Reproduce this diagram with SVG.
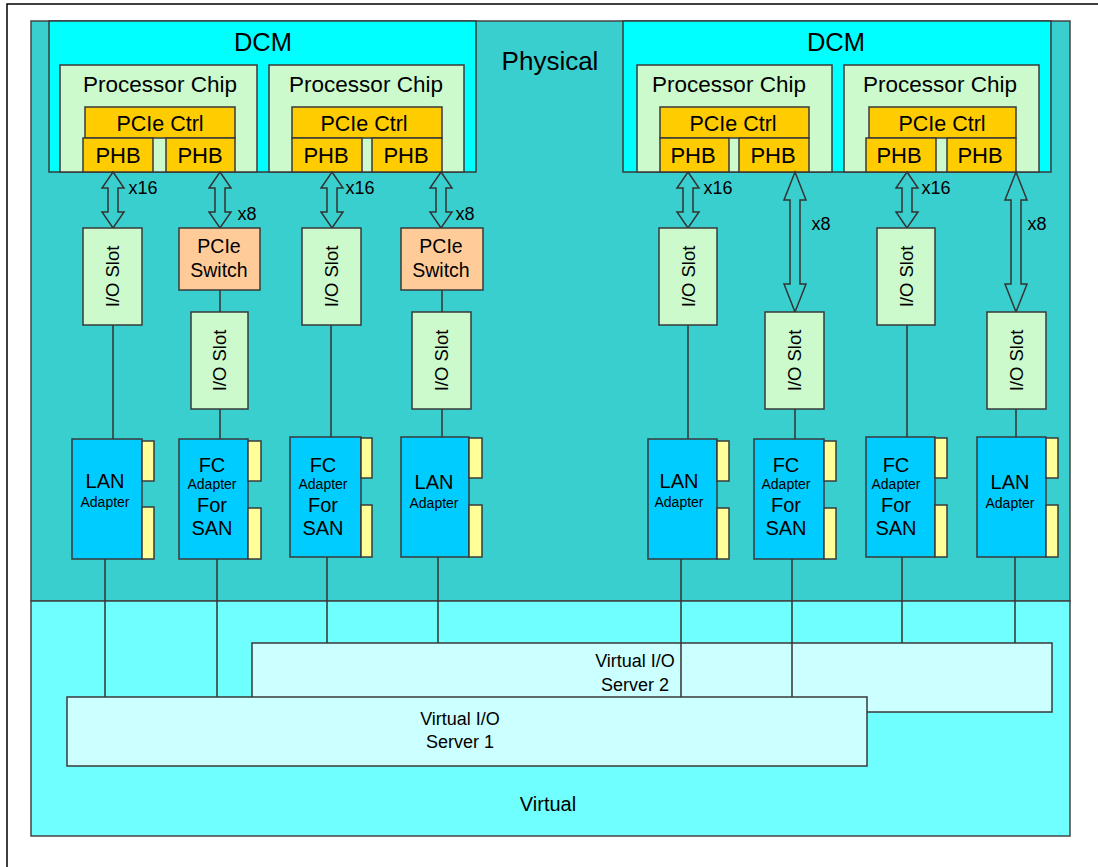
<svg xmlns="http://www.w3.org/2000/svg" width="1098" height="867" viewBox="0 0 1098 867">
<style>
text{font-family:"Liberation Sans",Arial,sans-serif;fill:#000;text-anchor:middle}
.bx{stroke:#3a3a3a;stroke-width:1.5}
.dcm{fill:#00FFFF}
.chip{fill:#CCFACC}
.ctrl{fill:#FFCC00}
.slot{fill:#CCFACC}
.sw{fill:#FFCC99}
.ad{fill:#00CCFF}
.tab{fill:#FFFF99}
.vios{fill:#CCFFFF}
.ln{stroke:#333;stroke-width:1.5;fill:none}
.arr{fill:#3ACFCF;stroke:#333;stroke-width:1.5;stroke-linejoin:miter}
.big{font-size:25.5px}
.chipT{font-size:22.5px}
.t21{font-size:21.5px}
.t22{font-size:22px}
.t20{font-size:20px}
.t18{font-size:18px}
.slT{font-size:18.5px}
.swT{font-size:19.5px}
.t14{font-size:14px}
</style>
<rect width="1098" height="867" fill="#fff"/>
<path d="M7,867 V4 H1098" fill="none" stroke="#000" stroke-width="1.5"/>
<g id="physical">
<rect x="31" y="21" width="1039" height="580" fill="#3ACFCF" stroke="#444" stroke-width="1.5"/>
<text x="550" y="70" style="font-size:26px">Physical</text>
</g>
<g id="virtual">
<rect x="31" y="601" width="1039" height="235" fill="#6FFFFF" stroke="#444" stroke-width="1.5"/>
<text x="548" y="811" style="font-size:20px">Virtual</text>
</g>
<g id="dcm1">
<rect class="bx dcm" x="49" y="21" width="427" height="151"/>
<text class="big" x="263" y="51">DCM</text>
</g>
<g id="dcm2">
<rect class="bx dcm" x="623" y="21" width="428" height="151"/>
<text class="big" x="836" y="51">DCM</text>
</g>
<g id="chip1">
<rect class="bx chip" x="60" y="65" width="197" height="107"/>
<text class="chipT" x="160" y="92">Processor Chip</text>
<rect class="bx ctrl" x="85" y="107" width="150" height="31"/>
<text class="t21" x="160" y="131">PCIe Ctrl</text>
<rect class="bx ctrl" x="83" y="138" width="70" height="34"/>
<text class="t22" x="118" y="163">PHB</text>
<rect class="bx ctrl" x="166" y="138" width="69" height="34"/>
<text class="t22" x="200" y="163">PHB</text>
</g>
<g id="chip2">
<rect class="bx chip" x="269" y="65" width="195" height="107"/>
<text class="chipT" x="366" y="92">Processor Chip</text>
<rect class="bx ctrl" x="292" y="107" width="150" height="31"/>
<text class="t21" x="364" y="131">PCIe Ctrl</text>
<rect class="bx ctrl" x="292" y="138" width="70" height="34"/>
<text class="t22" x="326" y="163">PHB</text>
<rect class="bx ctrl" x="372" y="138" width="70" height="34"/>
<text class="t22" x="406" y="163">PHB</text>
</g>
<g id="chip3">
<rect class="bx chip" x="637" y="65" width="195" height="107"/>
<text class="chipT" x="729" y="92">Processor Chip</text>
<rect class="bx ctrl" x="660" y="107" width="149" height="31"/>
<text class="t21" x="733" y="131">PCIe Ctrl</text>
<rect class="bx ctrl" x="660" y="138" width="69" height="34"/>
<text class="t22" x="693" y="163">PHB</text>
<rect class="bx ctrl" x="739" y="138" width="70" height="34"/>
<text class="t22" x="773" y="163">PHB</text>
</g>
<g id="chip4">
<rect class="bx chip" x="844" y="65" width="195" height="107"/>
<text class="chipT" x="940" y="92">Processor Chip</text>
<rect class="bx ctrl" x="869" y="107" width="147" height="31"/>
<text class="t21" x="942" y="131">PCIe Ctrl</text>
<rect class="bx ctrl" x="866" y="138" width="70" height="34"/>
<text class="t22" x="899" y="163">PHB</text>
<rect class="bx ctrl" x="947" y="138" width="69" height="34"/>
<text class="t22" x="980" y="163">PHB</text>
</g>
<g id="connectors">
<path class="arr" d="M113,172 L124,188 L118,188 L118,212 L124,212 L113,228 L102,212 L108,212 L108,188 L102,188 Z"/>
<path class="arr" d="M220,172 L231,188 L225,188 L225,212 L231,212 L220,228 L209,212 L215,212 L215,188 L209,188 Z"/>
<path class="arr" d="M332,172 L343,188 L337,188 L337,212 L343,212 L332,228 L321,212 L327,212 L327,188 L321,188 Z"/>
<path class="arr" d="M441,172 L452,188 L446,188 L446,212 L452,212 L441,228 L430,212 L436,212 L436,188 L430,188 Z"/>
<path class="arr" d="M688,172 L699,188 L693,188 L693,212 L699,212 L688,228 L677,212 L683,212 L683,188 L677,188 Z"/>
<path class="arr" d="M795,172 L806,200 L800,200 L800,284 L806,284 L795,312 L784,284 L790,284 L790,200 L784,200 Z"/>
<path class="arr" d="M907,172 L918,188 L912,188 L912,212 L918,212 L907,228 L896,212 L902,212 L902,188 L896,188 Z"/>
<path class="arr" d="M1016,172 L1027,200 L1021,200 L1021,284 L1027,284 L1016,312 L1005,284 L1011,284 L1011,200 L1005,200 Z"/>
<path class="ln" d="M113,325 V439 M220,290 V312 M220,409 V439 M331,325 V437 M442,290 V312 M442,409 V437 M688,325 V439 M795,409 V439 M907,325 V437 M1016,409 V437"/>
<path class="ln" d="M105,559 V697 M217,559 V697 M327,557 V643 M438,557 V643 M902,557 V643 M1015,557 V643"/>
</g>
<g id="labels">
<text class="t18" x="143" y="194">x16</text>
<text class="t18" x="247" y="220">x8</text>
<text class="t18" x="360" y="194">x16</text>
<text class="t18" x="465" y="220">x8</text>
<text class="t18" x="718" y="194">x16</text>
<text class="t18" x="821" y="230">x8</text>
<text class="t18" x="936" y="194">x16</text>
<text class="t18" x="1037" y="230">x8</text>
</g>
<g id="slot1"><rect class="bx slot" x="83" y="228" width="59" height="97"/><text class="slT" transform="translate(118.5,276.5) rotate(-90)">I/O Slot</text></g>
<g id="switch1"><rect class="bx sw" x="179" y="228" width="81" height="62"/><text class="swT" x="219" y="253">PCIe</text><text class="swT" x="219" y="277">Switch</text></g>
<g id="slot2"><rect class="bx slot" x="191" y="312" width="57" height="97"/><text class="slT" transform="translate(226,360.5) rotate(-90)">I/O Slot</text></g>
<g id="slot3"><rect class="bx slot" x="302" y="228" width="59" height="97"/><text class="slT" transform="translate(338,276.5) rotate(-90)">I/O Slot</text></g>
<g id="switch2"><rect class="bx sw" x="401" y="228" width="82" height="62"/><text class="swT" x="441" y="253">PCIe</text><text class="swT" x="441" y="277">Switch</text></g>
<g id="slot4"><rect class="bx slot" x="412" y="312" width="59" height="97"/><text class="slT" transform="translate(448,360.5) rotate(-90)">I/O Slot</text></g>
<g id="slot5"><rect class="bx slot" x="659" y="228" width="58" height="97"/><text class="slT" transform="translate(694.5,276.5) rotate(-90)">I/O Slot</text></g>
<g id="slot6"><rect class="bx slot" x="765" y="312" width="59" height="97"/><text class="slT" transform="translate(801,360.5) rotate(-90)">I/O Slot</text></g>
<g id="slot7"><rect class="bx slot" x="877" y="228" width="58" height="97"/><text class="slT" transform="translate(912.5,276.5) rotate(-90)">I/O Slot</text></g>
<g id="slot8"><rect class="bx slot" x="987" y="312" width="59" height="97"/><text class="slT" transform="translate(1023,360.5) rotate(-90)">I/O Slot</text></g>
<g id="lan1"><rect class="bx ad" x="72" y="439" width="70" height="120"/><rect class="bx tab" x="142" y="441" width="12" height="40"/><rect class="bx tab" x="142" y="507" width="12" height="52"/><text class="t20" x="105" y="488">LAN</text><text class="t14" x="105" y="507">Adapter</text></g>
<g id="fc1"><rect class="bx ad" x="179" y="439" width="69" height="120"/><rect class="bx tab" x="248" y="441" width="13" height="40"/><rect class="bx tab" x="248" y="508" width="13" height="51"/><text class="t20" x="212" y="472">FC</text><text class="t14" x="212" y="489">Adapter</text><text class="t20" x="212" y="512">For</text><text class="t20" x="212" y="535">SAN</text></g>
<g id="fc2"><rect class="bx ad" x="290" y="437" width="71" height="120"/><rect class="bx tab" x="361" y="438" width="11" height="40"/><rect class="bx tab" x="361" y="505" width="11" height="52"/><text class="t20" x="323" y="472">FC</text><text class="t14" x="323" y="489">Adapter</text><text class="t20" x="323" y="512">For</text><text class="t20" x="323" y="535">SAN</text></g>
<g id="lan2"><rect class="bx ad" x="401" y="437" width="68" height="120"/><rect class="bx tab" x="469" y="438" width="13" height="40"/><rect class="bx tab" x="469" y="505" width="13" height="52"/><text class="t20" x="434" y="489">LAN</text><text class="t14" x="434" y="508">Adapter</text></g>
<g id="lan3"><rect class="bx ad" x="648" y="439" width="69" height="120"/><rect class="bx tab" x="717" y="441" width="12" height="40"/><rect class="bx tab" x="717" y="508" width="12" height="51"/><text class="t20" x="679" y="488">LAN</text><text class="t14" x="679" y="507">Adapter</text></g>
<g id="fc3"><rect class="bx ad" x="754" y="439" width="70" height="120"/><rect class="bx tab" x="824" y="441" width="12" height="40"/><rect class="bx tab" x="824" y="508" width="12" height="51"/><text class="t20" x="786" y="472">FC</text><text class="t14" x="786" y="489">Adapter</text><text class="t20" x="786" y="512">For</text><text class="t20" x="786" y="535">SAN</text></g>
<g id="fc4"><rect class="bx ad" x="866" y="437" width="69" height="120"/><rect class="bx tab" x="935" y="438" width="12" height="40"/><rect class="bx tab" x="935" y="505" width="12" height="52"/><text class="t20" x="896" y="472">FC</text><text class="t14" x="896" y="489">Adapter</text><text class="t20" x="896" y="512">For</text><text class="t20" x="896" y="535">SAN</text></g>
<g id="lan4"><rect class="bx ad" x="977" y="437" width="69" height="120"/><rect class="bx tab" x="1046" y="438" width="12" height="40"/><rect class="bx tab" x="1046" y="505" width="12" height="52"/><text class="t20" x="1010" y="489">LAN</text><text class="t14" x="1010" y="508">Adapter</text></g>
<g id="vios2">
<rect class="bx vios" x="252" y="643" width="800" height="69"/>
<text class="t18" x="635" y="667">Virtual I/O</text>
<text class="t18" x="635" y="691">Server 2</text>
</g>
<g id="connectors-vios">
<path class="ln" d="M681,559 V697 M792,559 V697"/>
</g>
<g id="vios1">
<rect class="bx vios" x="67" y="697" width="800" height="69"/>
<text class="t18" x="460" y="725">Virtual I/O</text>
<text class="t18" x="460" y="748">Server 1</text>
</g>
</svg>
